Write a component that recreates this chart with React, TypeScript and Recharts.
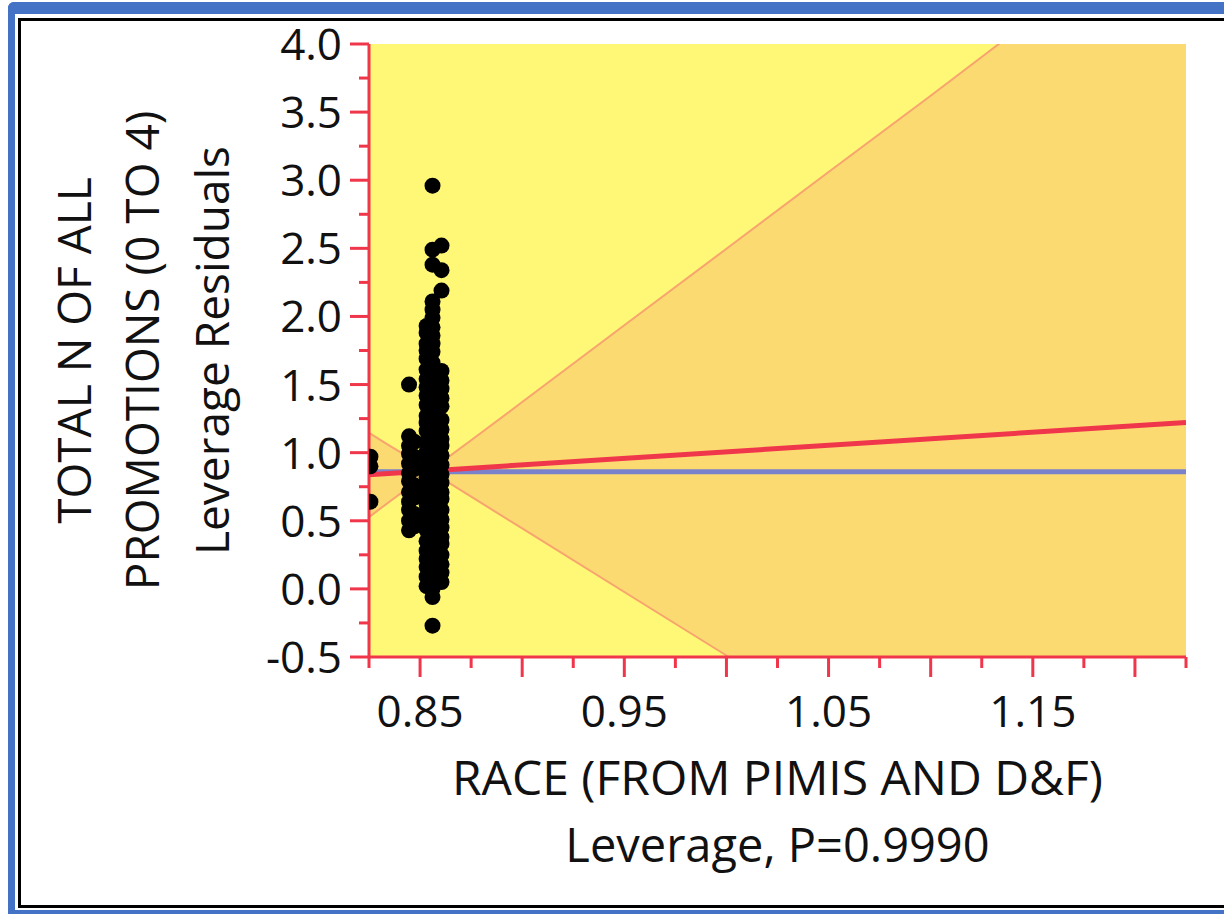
import React from 'react';
import { Area, CartesianGrid, ComposedChart, Line, Scatter, XAxis, YAxis } from 'recharts';

// axis ticks
const xTicks = [0.825, 0.85, 0.875, 0.9, 0.925, 0.95, 0.975, 1.0, 1.025, 1.05, 1.075, 1.1, 1.125, 1.15, 1.175, 1.2, 1.225];
const xLongTicks = [0.85, 0.9, 0.95, 1.0, 1.05, 1.1, 1.15, 1.2];
const xLabelTicks = [0.85, 0.95, 1.05, 1.15];
const yTicks = [-0.5, -0.25, 0, 0.25, 0.5, 0.75, 1.0, 1.25, 1.5, 1.75, 2.0, 2.25, 2.5, 2.75, 3.0, 3.25, 3.5, 3.75, 4.0];
const yLabelTicks = [-0.5, 0, 0.5, 1.0, 1.5, 2.0, 2.5, 3.0, 3.5, 4.0];

// confidence curves
const bandX = [0.825, 0.835, 0.845, 0.855, 0.865, 0.875, 0.9, 0.95, 1.0, 1.05, 1.1, 1.15, 1.225];
const bandUpper = [1.145, 1.052, 0.961, 0.895, 0.98, 1.091, 1.372, 1.935, 2.497, 3.06, 3.62, 4.19, 5.03];
const bandLower = [0.527, 0.64, 0.751, 0.835, 0.77, 0.677, 0.444, -0.023, -0.489, -0.956, -1.42, -1.89, -2.59];

// fit line and mean line
const fitX = [0.825, 1.225];
const fitY = [0.838, 1.222];
const meanY = [0.86, 0.86];

// leverage residual points, grouped by leverage column
const colX = [0.8257, 0.8446, 0.8472, 0.8532, 0.8561, 0.8605];
const edgeYs = [0.97, 0.9, 0.64];
const secAYs = [0.43, 0.5, 0.58, 0.64, 0.71, 0.79, 0.85, 0.92, 0.99, 1.05, 1.12, 1.5];
const secBYs = [0.46, 0.55, 0.67, 0.76, 0.88, 0.97, 1.08];
const leftYs = [0.02, 0.09, 0.16, 0.22, 0.28, 0.35, 0.43, 0.49, 0.55, 0.62, 0.7, 0.75, 0.82, 0.89, 0.95, 1.01, 1.08, 1.16, 1.22, 1.27, 1.35, 1.42, 1.48, 1.54, 1.61, 1.69, 1.75, 1.8, 1.88, 1.93];
const midYs = [-0.27, -0.06, 0.0, 0.08, 0.13, 0.2, 0.26, 0.34, 0.4, 0.46, 0.53, 0.61, 0.66, 0.73, 0.79, 0.86, 0.94, 1.0, 1.06, 1.12, 1.2, 1.27, 1.33, 1.39, 1.46, 1.54, 1.6, 1.66, 1.74, 1.8, 1.86, 1.92, 1.99, 2.05, 2.11, 2.38, 2.49, 2.96];
const rightYs = [0.05, 0.12, 0.18, 0.25, 0.33, 0.38, 0.45, 0.51, 0.58, 0.66, 0.71, 0.78, 0.84, 0.91, 0.98, 1.05, 1.1, 1.17, 1.24, 1.34, 1.4, 1.47, 1.53, 1.6, 2.19, 2.34, 2.52];

const RED = '#F0364A';
const ORANGE_LINE = '#F7A46E';
const BAND_FILL = '#FCDA72';
const YELLOW = '#FFF776';
const BLUE_LINE = '#7A82CC';
const FONT = '"Open Sans", sans-serif';

const bandData = bandX.map((x, i) => ({ x, band: [bandLower[i], bandUpper[i]], hi: bandUpper[i], lo: bandLower[i] }));
const fitData = fitX.map((x, i) => ({ x, y: fitY[i] }));
const meanData = fitX.map((x, i) => ({ x, y: meanY[i] }));
const points = [edgeYs, secAYs, secBYs, leftYs, midYs, rightYs].flatMap((ys, i) =>
  ys.map((y) => ({ x: colX[i], y }))
);

const has = (list: number[], v: number) => list.some((t) => Math.abs(t - v) < 1e-6);

function YTick(props: any) {
  const { x, y, payload } = props;
  const v = payload.value;
  const major = has(yLabelTicks, v);
  const len = major ? 19 : 10;
  return (
    <g>
      <line x1={x} x2={x - len} y1={y} y2={y} stroke={RED} strokeWidth={3} />
      {major && (
        <text x={x - 27} y={y + 16} textAnchor="end" fontFamily={FONT} fontSize={44} fill="#111">
          {v.toFixed(1)}
        </text>
      )}
    </g>
  );
}

function XTick(props: any) {
  const { x, y, payload } = props;
  const v = payload.value;
  const len = has(xLongTicks, v) ? 20 : 11;
  return (
    <g>
      <line x1={x} x2={x} y1={y} y2={y + len} stroke={RED} strokeWidth={3} />
      {has(xLabelTicks, v) && (
        <text x={x} y={y + 70} textAnchor="middle" fontFamily={FONT} fontSize={44} fill="#111">
          {v.toFixed(2)}
        </text>
      )}
    </g>
  );
}

function YTitle(props: any) {
  const vb = props.viewBox;
  const cy = vb.y + vb.height / 2;
  const lines = [
    { x: 91, text: 'TOTAL N OF ALL' },
    { x: 159, text: 'PROMOTIONS (0 TO 4)' },
    { x: 229, text: 'Leverage Residuals' },
  ];
  return (
    <g>
      {lines.map((l) => (
        <text key={l.text} x={l.x} y={cy} transform={`rotate(-90, ${l.x}, ${cy})`} textAnchor="middle"
          fontFamily={FONT} fontSize={46} fill="#111">
          {l.text}
        </text>
      ))}
    </g>
  );
}

function XTitle(props: any) {
  const vb = props.viewBox;
  const cx = vb.x + vb.width / 2;
  return (
    <g>
      <text x={cx} y={795} textAnchor="middle" fontFamily={FONT} fontSize={48} fill="#111">
        RACE (FROM PIMIS AND D&amp;F)
      </text>
      <text x={cx} y={862} textAnchor="middle" fontFamily={FONT} fontSize={47} fill="#111">
        Leverage, P=0.9990
      </text>
    </g>
  );
}

const dot = (p: any) => <circle cx={p.cx} cy={p.cy} r={8} fill="#000" />;

export default function App() {
  return (
    <div style={{ position: 'absolute', left: 0, top: 0, width: 1224, height: 914, background: '#fff', overflow: 'hidden' }}>
      {/* window frame */}
      <div style={{ position: 'absolute', left: 8, top: 2, width: 1240, height: 960, borderLeft: '7px solid #4472C4', borderTop: '12px solid #4472C4', borderTopLeftRadius: 6 }} />
      <div style={{ position: 'absolute', left: 8, top: 910, width: 1240, height: 6, background: '#4472C4' }} />
      <div style={{ position: 'absolute', left: 18, top: 18, width: 1240, height: 884, borderLeft: '3px solid #000', borderTop: '3px solid #000', borderBottom: '3px solid #000' }} />

      <div style={{ position: 'absolute', left: 0, top: 0 }}>
        <ComposedChart width={1224} height={914} margin={{ top: 44, right: 38, bottom: 0, left: 0 }}>
          <CartesianGrid horizontal={false} vertical={false} fill={YELLOW} />
          <XAxis
            type="number"
            dataKey="x"
            domain={[0.825, 1.225]}
            allowDataOverflow
            ticks={xTicks}
            interval={0}
            height={257}
            tickSize={0}
            tickMargin={0}
            tickLine={false}
            axisLine={{ stroke: RED, strokeWidth: 3 }}
            tick={<XTick />}
            label={<XTitle />}
          />
          <XAxis xAxisId="top" orientation="top" type="number" domain={[0.825, 1.225]} height={0} tick={false} tickLine={false} axisLine={{ stroke: RED, strokeWidth: 3 }} />
          <YAxis
            type="number"
            dataKey="y"
            domain={[-0.5, 4.0]}
            allowDataOverflow
            ticks={yTicks}
            interval={0}
            width={369}
            tickSize={0}
            tickMargin={0}
            tickLine={false}
            axisLine={{ stroke: RED, strokeWidth: 3 }}
            tick={<YTick />}
            label={<YTitle />}
          />
          <YAxis yAxisId="right" orientation="right" type="number" domain={[-0.5, 4.0]} width={0} tick={false} tickLine={false} axisLine={{ stroke: RED, strokeWidth: 3 }} />
          <Area data={bandData} dataKey="band" type="linear" fill={BAND_FILL} fillOpacity={1} stroke="none" isAnimationActive={false} />
          <Line data={bandData} dataKey="hi" type="linear" stroke={ORANGE_LINE} strokeWidth={2} dot={false} isAnimationActive={false} />
          <Line data={bandData} dataKey="lo" type="linear" stroke={ORANGE_LINE} strokeWidth={2} dot={false} isAnimationActive={false} />
          <Line data={meanData} dataKey="y" type="linear" stroke={BLUE_LINE} strokeWidth={5} dot={false} isAnimationActive={false} />
          <Line data={fitData} dataKey="y" type="linear" stroke={RED} strokeWidth={5} dot={false} isAnimationActive={false} />
          <Scatter data={points} dataKey="y" shape={dot} isAnimationActive={false} />
        </ComposedChart>
      </div>
    </div>
  );
}
